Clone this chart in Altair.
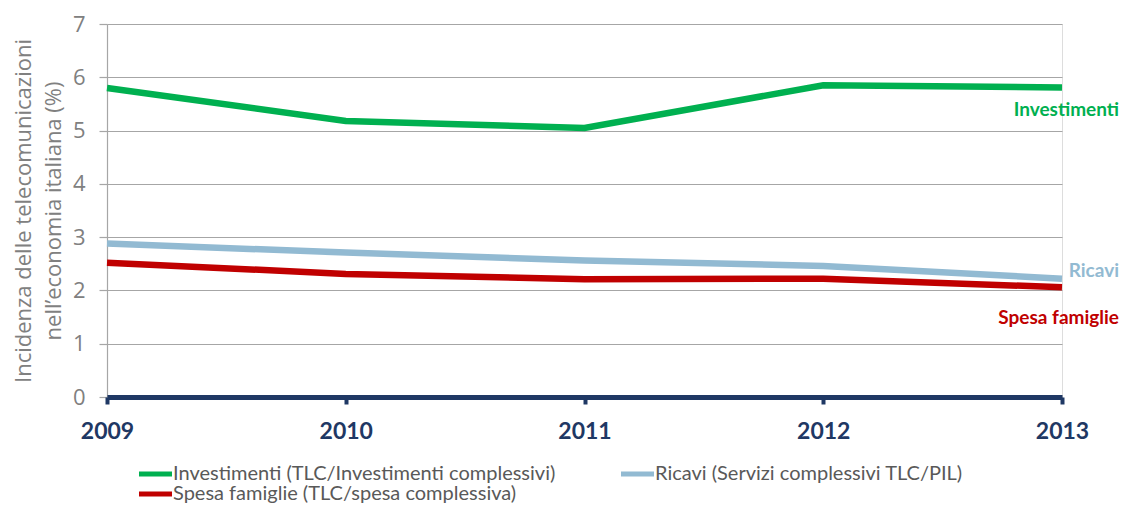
import altair as alt
import pandas as pd

years = [2009, 2010, 2011, 2012, 2013]
series_names = [
    "Investimenti (TLC/Investimenti complessivi)",
    "Ricavi (Servizi complessivi TLC/PIL)",
    "Spesa famiglie (TLC/spesa complessiva)",
]
short_labels = ["Investimenti", "Ricavi", "Spesa famiglie"]
investimenti = [5.80, 5.18, 5.05, 5.85, 5.81]
ricavi = [2.88, 2.71, 2.56, 2.46, 2.22]
spesa = [2.52, 2.31, 2.21, 2.22, 2.06]
colors = ["#00b050", "#92bad2", "#c00000"]

rows = []
for name, vals in zip(series_names, [investimenti, ricavi, spesa]):
    for y, v in zip(years, vals):
        rows.append({"anno": y, "serie": name, "valore": v})
df = pd.DataFrame(rows)

lab_df = pd.DataFrame({
    "anno": [2013] * 3,
    "serie": series_names,
    "etichetta": short_labels,
    "valore": [investimenti[-1], ricavi[-1], spesa[-1]],
})

x = alt.X(
    "anno:Q",
    scale=alt.Scale(domain=[2009, 2013], nice=False, zero=False),
    axis=alt.Axis(
        values=years, format="d", title=None, grid=False,
        labelFont="Lato", labelFontWeight="bold", labelFontSize=23,
        labelColor="#1f3864", labelPadding=16, labelFlush=False,
        domainColor="#1f3864", domainWidth=5,
        tickColor="#1f3864", tickWidth=4, tickSize=7, zindex=1,
    ),
)
y = alt.Y(
    "valore:Q",
    scale=alt.Scale(domain=[0, 7], nice=False),
    axis=alt.Axis(
        values=[0, 1, 2, 3, 4, 5, 6, 7], format="d",
        title=["Incidenza delle telecomunicazioni", "nell\u2019economia italiana (%)"],
        titleFont="Open Sans", titleFontSize=22, titleFontWeight="normal",
        titleColor="#808080", titleLineHeight=30, titlePadding=7,
        labelFont="Open Sans", labelFontSize=22, labelColor="#808080",
        labelPadding=14,
        grid=True, gridColor="#a6a6a6", gridWidth=1.2,
        domainColor="#a6a6a6", domainWidth=1.2,
        tickColor="#a6a6a6", tickSize=8, tickWidth=1.2,
    ),
)

lines = alt.Chart(df).mark_line(strokeWidth=6.5, strokeCap="butt").encode(
    x=x,
    y=y,
    color=alt.Color(
        "serie:N",
        scale=alt.Scale(domain=series_names, range=colors),
        sort=series_names,
        legend=alt.Legend(
            title=None, orient="none", legendX=38.5, legendY=440,
            direction="horizontal", columns=2, columnPadding=55, rowPadding=0,
            symbolType="M-2.2,0H2.2", symbolSize=225, symbolStrokeWidth=5,
            labelFont="Lato", labelFontSize=20, labelColor="#595959",
            labelLimit=600, labelOffset=7.5,
        ),
    ),
)

dys = [23, -8, 31]
texts = []
for name, lab, col, dy in zip(series_names, short_labels, colors, dys):
    texts.append(
        alt.Chart(lab_df).transform_filter(alt.datum.serie == name)
        .mark_text(align="right", baseline="middle", dx=57, dy=dy,
                   font="Lato", fontWeight="bold", fontSize=19, color=col)
        .encode(x="anno:Q", y="valore:Q", text="etichetta:N")
    )

chart = alt.layer(lines, *texts).properties(
    width=955, height=373,
    autosize=alt.AutoSizeParams(type="none"),
    padding={"left": 99, "top": 16, "right": 58, "bottom": 106},
).configure_view(stroke=None).configure(background="white")

chart.save("out.html", embed_options={"renderer": "svg", "actions": False})
